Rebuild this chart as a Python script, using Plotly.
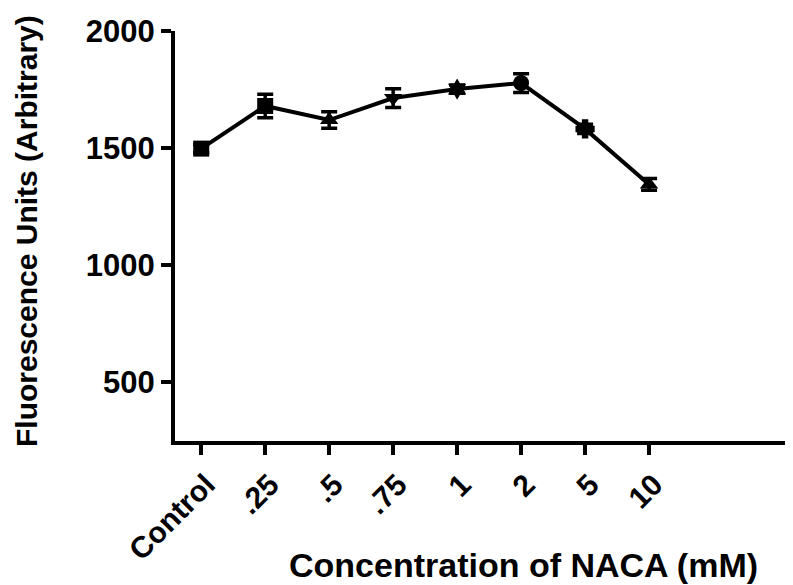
import plotly.graph_objects as go

categories = ["Control", ".25", ".5", ".75", "1", "2", "5", "10"]
values = [1498, 1680, 1620, 1714, 1752, 1778, 1582, 1345]
errors = [18, 50, 35, 40, 18, 40, 20, 25]
symbols = ["square", "square", "triangle-up", "triangle-down", "hexagram", "circle", "cross", "triangle-up"]
y_ticks = [500, 1000, 1500, 2000]
x_title = "Concentration of NACA (mM)"
y_title = "Fluorescence Units (Arbitrary)"
x_pos = list(range(len(categories)))

# page body has an 8px margin, so the figure is sized to fit the window
W, H = 785, 577
L, R, T, B = 167, 0, 23, 144
PW, PH = W - L - R, H - T - B

fig = go.Figure()
fig.add_trace(go.Scatter(
    x=x_pos, y=values,
    mode="lines+markers",
    line=dict(color="black", width=4),
    marker=dict(symbol=symbols, size=16, color="black"),
    error_y=dict(type="data", array=errors, visible=True, color="black", thickness=3.5, width=8),
    showlegend=False,
))

font_family = "Liberation Sans, Arial, sans-serif"
fig.update_layout(
    width=W, height=H,
    margin=dict(l=L, r=R, t=T, b=B),
    plot_bgcolor="white", paper_bgcolor="white",
    font=dict(family=font_family, color="black"),
)
fig.update_xaxes(
    range=[-0.41, 9.25],
    tickmode="array", tickvals=x_pos, ticktext=["<b>%s</b>" % c for c in categories],
    tickangle=-45, tickfont=dict(size=30, family=font_family, color="black"),
    ticklabelshift=5,
    showline=True, linecolor="black", linewidth=4,
    ticks="outside", ticklen=10, tickwidth=3.5, tickcolor="black",
    showgrid=False, zeroline=False, automargin=False,
)
fig.update_yaxes(
    range=[250, 2000],
    tickvals=y_ticks, ticktext=["<b>%d</b>" % v for v in y_ticks],
    tickfont=dict(size=31, family=font_family, color="black"),
    showline=True, linecolor="black", linewidth=4,
    ticks="outside", ticklen=10, tickwidth=3.5, tickcolor="black",
    showgrid=False, zeroline=False, automargin=False,
)
fig.add_annotation(
    text="<b>%s</b>" % x_title, xref="paper", yref="paper",
    x=(515 - L) / PW, y=-(557 - (H - B)) / PH,
    xanchor="center", yanchor="middle", showarrow=False,
    font=dict(size=34, family=font_family, color="black"),
)
fig.add_annotation(
    text="<b>%s</b>" % y_title, xref="paper", yref="paper",
    x=-(L - 18) / PW, y=((H - B) - 223) / PH,
    xanchor="center", yanchor="middle", showarrow=False, textangle=-90,
    font=dict(size=30, family=font_family, color="black"),
)

fig.write_html("out.html")
